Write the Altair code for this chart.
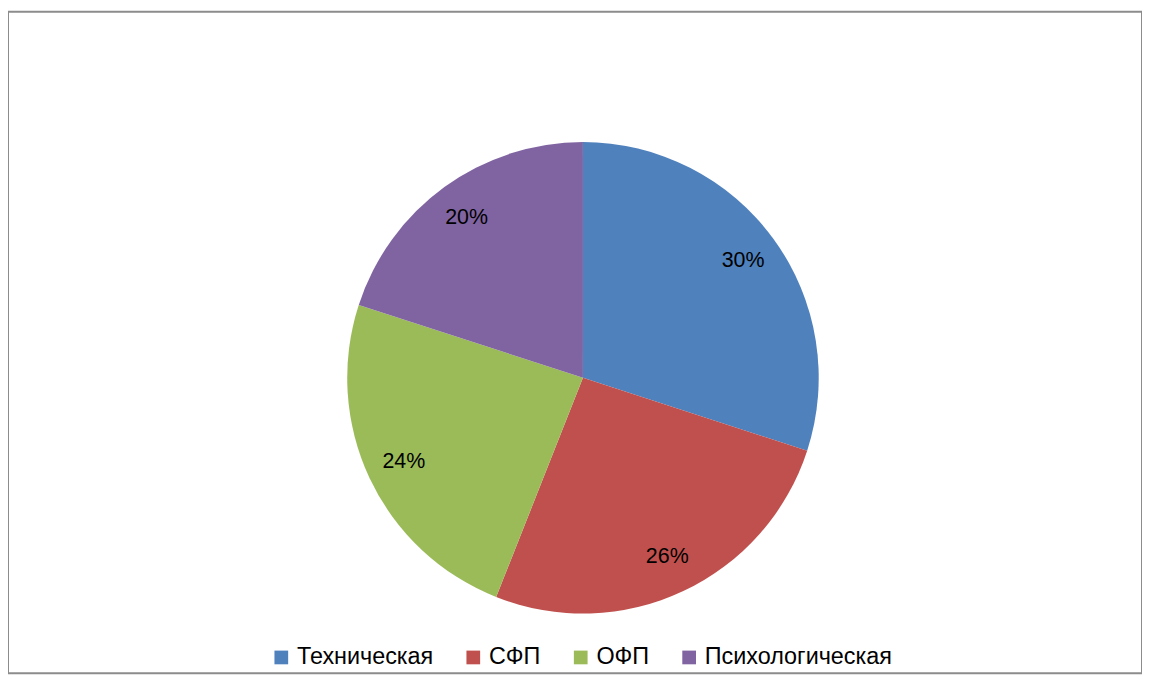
import altair as alt
import pandas as pd

categories = ["Техническая", "СФП", "ОФП", "Психологическая"]
values = [30, 26, 24, 20]
labels = ["30%", "26%", "24%", "20%"]
colors = ["#4F81BD", "#C0504D", "#9BBB59", "#8064A2"]

df = pd.DataFrame({"cat": categories, "val": values, "label": labels, "order": list(range(len(categories)))})

W, H = 1140, 665
cx, cy = 578, 368

color = alt.Color(
    "cat:N",
    scale=alt.Scale(domain=categories, range=colors),
    sort=categories,
    legend=alt.Legend(
        title=None, orient="none", direction="horizontal",
        legendX=263, legendY=637, symbolType="square", symbolSize=190,
        symbolStrokeWidth=0, labelFontSize=23.5, labelFont="Liberation Sans",
        labelColor="#000000", columnPadding=28, labelOffset=4, labelLimit=400,
        symbolOffset=0,
    ),
)

base = alt.Chart(df).encode(
    theta=alt.Theta("val:Q", stack=True),
    order=alt.Order("order:Q"),
)

pie = base.mark_arc(outerRadius=237, stroke="white", strokeWidth=0).encode(
    color=color,
    x=alt.value(cx), y=alt.value(cy),
)

text = base.mark_text(radius=199, fontSize=21.5, font="Liberation Sans", color="#000000").encode(
    text="label:N",
    x=alt.value(cx), y=alt.value(cy),
)

chart = (pie + text).properties(
    width=W, height=H,
    autosize=alt.AutoSizeParams(type="none"),
    padding={"left": 0, "top": 2, "right": 0, "bottom": 0},
).configure_view(stroke="#8c8c8c", strokeWidth=2)

chart.save("out.html", embed_options={"renderer": "svg", "actions": False})
